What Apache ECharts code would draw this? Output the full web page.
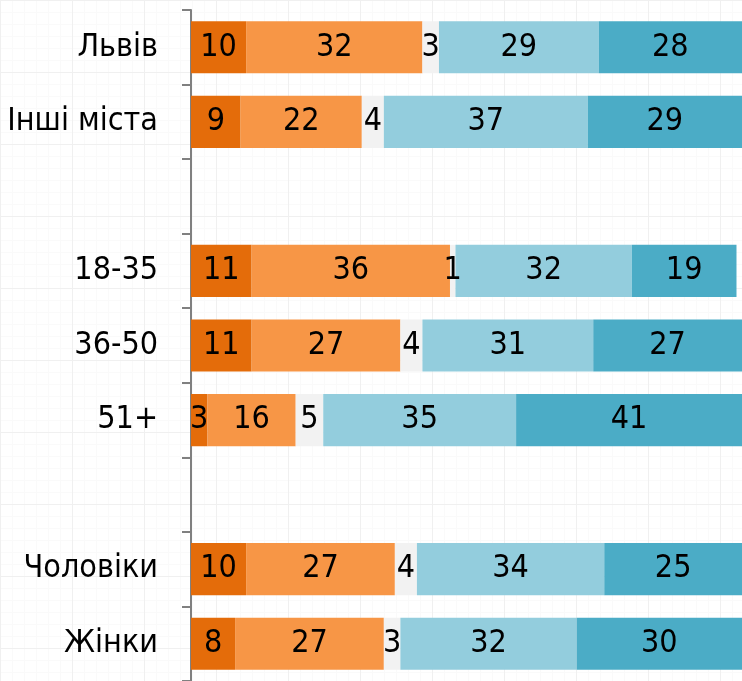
<!DOCTYPE html>
<html>
<head>
<meta charset="utf-8">
<script src="https://cdn.jsdelivr.net/npm/echarts@6/dist/echarts.min.js"></script>
<style>
  html, body { margin: 0; padding: 0; }
  body {
    background-color: #fff;
    background-image:
      linear-gradient(#f0f0f0 1px, transparent 1px),
      linear-gradient(90deg, #f0f0f0 1px, transparent 1px),
      linear-gradient(#fafafa 1px, transparent 1px),
      linear-gradient(90deg, #fafafa 1px, transparent 1px);
    background-size: 72px 72px, 72px 72px, 12px 12px, 12px 12px;
  }
  #main { width: 742px; height: 681px; }
</style>
</head>
<body>
<div id="main"></div>
<script>
// категорії (порожні рядки - проміжки між групами)
var categories = ['Львів', 'Інші міста', '', '18-35', '36-50', '51+', '', 'Чоловіки', 'Жінки'];

var s1 = [10, 9, null, 11, 11, 3, null, 10, 8];
var s2 = [32, 22, null, 36, 27, 16, null, 27, 27];
var s3 = [3, 4, null, 1, 4, 5, null, 4, 3];
var s4 = [29, 37, null, 32, 31, 35, null, 34, 32];
var s5 = [28, 29, null, 19, 27, 41, null, 25, 30];

var colors = ['#E46C0A', '#F79646', '#F2F2F2', '#93CDDD', '#4BACC6'];
var font = '"DejaVu Sans Condensed", "Liberation Sans", sans-serif';

var myChart = echarts.init(document.getElementById('main'));

function makeSeries(data, i) {
    return {
        type: 'bar',
        stack: 'total',
        data: data,
        barCategoryGap: '30%',
        itemStyle: { color: colors[i] },
        label: {
            show: true,
            position: 'inside',
            color: '#000',
            fontFamily: font,
            fontSize: 32
        }
    };
}

option = {
    animation: false,
    backgroundColor: 'transparent',
    grid: { left: 191, right: 0, top: 10, height: 678 },
    xAxis: {
        type: 'value',
        min: 0,
        max: 100,
        show: false
    },
    yAxis: {
        type: 'category',
        inverse: true,
        data: categories,
        axisLine: { show: true, lineStyle: { color: '#808080', width: 2 } },
        axisTick: { show: true, length: 9, lineStyle: { color: '#808080', width: 2 } },
        axisLabel: {
            margin: 33,
            color: '#000',
            fontFamily: font,
            fontSize: 32
        }
    },
    series: [
        makeSeries(s1, 0),
        makeSeries(s2, 1),
        makeSeries(s3, 2),
        makeSeries(s4, 3),
        makeSeries(s5, 4)
    ]
};

myChart.setOption(option);
</script>
</body>
</html>
